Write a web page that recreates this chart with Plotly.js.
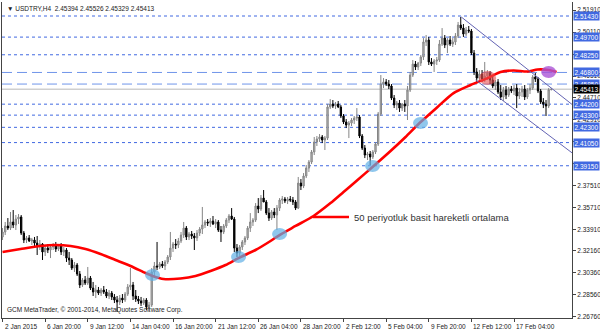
<!DOCTYPE html>
<html><head><meta charset="utf-8">
<script src="https://cdn.plot.ly/plotly-3.0.1.min.js"></script>
<style>html,body{margin:0;padding:0;background:#fff}#c{width:600px;height:333px}</style>
</head><body><div id="c"></div>
<script>
const openP = [2.3331,2.3372,2.3421,2.3404,2.3454,2.3429,2.3478,2.3495,2.3363,2.3306,2.3323,2.3298,2.3306,2.3281,2.3257,2.3273,2.3208,2.3240,2.3224,2.3249,2.3265,2.3232,2.3257,2.3208,2.3224,2.3158,2.3142,2.3076,2.3101,2.3027,2.2937,2.2978,2.2953,2.2994,2.2912,2.2880,2.2896,2.2871,2.2896,2.2880,2.2847,2.2871,2.2839,2.2814,2.2798,2.2830,2.2814,2.2863,2.2921,2.2937,2.2847,2.2822,2.2806,2.2789,2.2814,2.2757,2.2773,2.3044,2.3093,2.3085,2.3109,2.3093,2.3126,2.3167,2.3240,2.3273,2.3265,2.3298,2.3347,2.3404,2.3331,2.3355,2.3339,2.3323,2.3363,2.3396,2.3429,2.3454,2.3445,2.3462,2.3437,2.3454,2.3388,2.3372,2.3421,2.3470,2.3503,2.3478,2.3240,2.3199,2.3249,2.3290,2.3323,2.3404,2.3454,2.3470,2.3585,2.3560,2.3650,2.3618,2.3527,2.3486,2.3536,2.3511,2.3568,2.3634,2.3642,2.3626,2.3642,2.3634,2.3618,2.3568,2.3773,2.3749,2.3831,2.3896,2.3946,2.4028,2.4110,2.4134,2.4151,2.4126,2.4142,2.4397,2.4421,2.4405,2.4421,2.4397,2.4323,2.4274,2.4249,2.4265,2.4290,2.4306,2.4315,2.4159,2.4060,2.4003,2.4011,2.3987,2.4028,2.4093,2.4339,2.4585,2.4602,2.4585,2.4569,2.4470,2.4413,2.4429,2.4388,2.4421,2.4405,2.4536,2.4659,2.4749,2.4725,2.4757,2.4807,2.4930,2.4946,2.4766,2.4749,2.4774,2.4782,2.4913,2.4962,2.4905,2.4946,2.4913,2.4930,2.4979,2.5069,2.5044,2.4995,2.5028,2.5020,2.4839,2.4684,2.4634,2.4667,2.4626,2.4651,2.4675,2.4618,2.4569,2.4602,2.4520,2.4479,2.4536,2.4495,2.4544,2.4528,2.4552,2.4487,2.4520,2.4544,2.4479,2.4536,2.4552,2.4643,2.4626,2.4528,2.4438,2.4421,2.4405,2.4539];
const highP = [2.3404,2.3454,2.3486,2.3536,2.3552,2.3511,2.3519,2.3511,2.3380,2.3339,2.3347,2.3323,2.3331,2.3339,2.3306,2.3281,2.3265,2.3273,2.3257,2.3281,2.3290,2.3273,2.3281,2.3249,2.3240,2.3208,2.3158,2.3126,2.3117,2.3052,2.2994,2.3011,2.3085,2.3011,2.2962,2.2937,2.2921,2.2912,2.2929,2.2904,2.2896,2.2888,2.2863,2.2847,2.2855,2.2863,2.2880,2.2945,2.3076,2.2962,2.2896,2.2847,2.2839,2.2830,2.2830,2.2798,2.3076,2.3126,2.3290,2.3126,2.3134,2.3142,2.3183,2.3372,2.3290,2.3314,2.3323,2.3372,2.3454,2.3421,2.3372,2.3380,2.3363,2.3388,2.3413,2.3577,2.3470,2.3478,2.3486,2.3503,2.3478,2.3470,2.3421,2.3437,2.3486,2.3519,2.3568,2.3495,2.3273,2.3265,2.3306,2.3339,2.3421,2.3527,2.3486,2.3609,2.3650,2.3675,2.3716,2.3634,2.3568,2.3552,2.3568,2.3593,2.3650,2.3667,2.3659,2.3659,2.3667,2.3659,2.3634,2.3823,2.3806,2.3855,2.3921,2.3962,2.4044,2.4151,2.4159,2.4175,2.4167,2.4159,2.4421,2.4462,2.4454,2.4438,2.4446,2.4413,2.4339,2.4298,2.4282,2.4306,2.4323,2.4388,2.4331,2.4175,2.4085,2.4028,2.4036,2.4044,2.4110,2.4356,2.4659,2.4634,2.4626,2.4618,2.4585,2.4495,2.4446,2.4454,2.4429,2.4454,2.4569,2.4684,2.4782,2.4774,2.4766,2.4823,2.4962,2.4987,2.4971,2.4798,2.4790,2.4807,2.4946,2.5044,2.4987,2.4962,2.4979,2.4962,2.5003,2.5094,2.5135,2.5077,2.5053,2.5061,2.5036,2.4864,2.4716,2.4700,2.4700,2.4766,2.4700,2.4692,2.4651,2.4618,2.4626,2.4577,2.4561,2.4569,2.4561,2.4569,2.4577,2.4585,2.4552,2.4569,2.4577,2.4552,2.4585,2.4659,2.4675,2.4643,2.4544,2.4470,2.4454,2.4552,2.4553];
const lowP = [2.3306,2.3347,2.3388,2.3388,2.3404,2.3388,2.3437,2.3347,2.3281,2.3281,2.3290,2.3265,2.3257,2.3183,2.3224,2.3142,2.3175,2.3199,2.3158,2.3224,2.3208,2.3216,2.3183,2.3175,2.3126,2.3101,2.3060,2.3044,2.3011,2.2912,2.2921,2.2937,2.2937,2.2896,2.2847,2.2830,2.2855,2.2847,2.2863,2.2830,2.2822,2.2814,2.2789,2.2716,2.2773,2.2789,2.2798,2.2847,2.2896,2.2814,2.2798,2.2781,2.2765,2.2773,2.2732,2.2716,2.2757,2.3003,2.3060,2.3068,2.3076,2.3060,2.3109,2.3142,2.3208,2.3232,2.3240,2.3281,2.3323,2.3306,2.3306,2.3314,2.3224,2.3298,2.3339,2.3355,2.3404,2.3421,2.3413,2.3429,2.3404,2.3372,2.3290,2.3355,2.3404,2.3445,2.3470,2.3208,2.3167,2.3175,2.3224,2.3265,2.3306,2.3372,2.3421,2.3454,2.3527,2.3544,2.3626,2.3511,2.3462,2.3470,2.3486,2.3388,2.3544,2.3601,2.3609,2.3601,2.3618,2.3593,2.3552,2.3560,2.3716,2.3732,2.3814,2.3864,2.3929,2.4003,2.4077,2.4110,2.4101,2.4044,2.4126,2.4380,2.4388,2.4380,2.4388,2.4306,2.4257,2.4224,2.4142,2.4241,2.4257,2.4282,2.4142,2.4044,2.3978,2.3962,2.3921,2.3970,2.4011,2.4077,2.4323,2.4552,2.4569,2.4544,2.4454,2.4388,2.4372,2.4356,2.4364,2.4356,2.4290,2.4520,2.4643,2.4700,2.4700,2.4733,2.4782,2.4897,2.4741,2.4733,2.4684,2.4741,2.4766,2.4897,2.4880,2.4839,2.4897,2.4889,2.4905,2.4962,2.5028,2.4971,2.4979,2.5003,2.4823,2.4659,2.4602,2.4618,2.4602,2.4602,2.4618,2.4585,2.4552,2.4536,2.4503,2.4454,2.4446,2.4462,2.4479,2.4511,2.4495,2.4388,2.4462,2.4479,2.4454,2.4462,2.4503,2.4536,2.4602,2.4511,2.4421,2.4388,2.4323,2.4388,2.4533];
const closeP = [2.3372,2.3421,2.3404,2.3454,2.3429,2.3478,2.3495,2.3363,2.3306,2.3323,2.3298,2.3306,2.3281,2.3257,2.3273,2.3208,2.3240,2.3224,2.3249,2.3265,2.3232,2.3257,2.3208,2.3224,2.3158,2.3142,2.3076,2.3101,2.3027,2.2937,2.2978,2.2953,2.2994,2.2912,2.2880,2.2896,2.2871,2.2896,2.2880,2.2847,2.2871,2.2839,2.2814,2.2798,2.2830,2.2814,2.2863,2.2921,2.2937,2.2847,2.2822,2.2806,2.2789,2.2814,2.2757,2.2773,2.3044,2.3093,2.3085,2.3109,2.3093,2.3126,2.3167,2.3240,2.3273,2.3265,2.3298,2.3347,2.3404,2.3331,2.3355,2.3339,2.3323,2.3363,2.3396,2.3429,2.3454,2.3445,2.3462,2.3437,2.3454,2.3388,2.3372,2.3421,2.3470,2.3503,2.3478,2.3240,2.3199,2.3249,2.3290,2.3323,2.3404,2.3454,2.3470,2.3585,2.3560,2.3650,2.3618,2.3527,2.3486,2.3536,2.3511,2.3568,2.3634,2.3642,2.3626,2.3642,2.3634,2.3618,2.3568,2.3773,2.3749,2.3831,2.3896,2.3946,2.4028,2.4110,2.4134,2.4151,2.4126,2.4142,2.4397,2.4421,2.4405,2.4421,2.4397,2.4323,2.4274,2.4249,2.4265,2.4290,2.4306,2.4315,2.4159,2.4060,2.4003,2.4011,2.3987,2.4028,2.4093,2.4339,2.4585,2.4602,2.4585,2.4569,2.4470,2.4413,2.4429,2.4388,2.4421,2.4405,2.4536,2.4659,2.4749,2.4725,2.4757,2.4807,2.4930,2.4946,2.4766,2.4749,2.4774,2.4782,2.4913,2.4962,2.4905,2.4946,2.4913,2.4930,2.4979,2.5069,2.5044,2.4995,2.5028,2.5020,2.4839,2.4684,2.4634,2.4667,2.4626,2.4651,2.4675,2.4618,2.4569,2.4602,2.4520,2.4479,2.4536,2.4495,2.4544,2.4528,2.4552,2.4487,2.4520,2.4544,2.4479,2.4536,2.4552,2.4643,2.4626,2.4528,2.4438,2.4421,2.4405,2.4539,2.4541];

const maIdx = [0,6.76,14.26,19.89,25.53,31.16,36.79,42.42,48.05,53.68,56.31,60.44,66.82,72.45,78.08,83.71,88.59,94.97,100.6,103.98,110.0,116.74,123.12,128.0,133.26,138.89,145.65,151.28,156.53,163.29,169.29,175.68,182.06,186.94,191.82,197.07,200.83,204.95,207.96];
const maVal = [2.3208,2.3232,2.3257,2.3265,2.3257,2.3232,2.3191,2.3142,2.3093,2.3035,2.3011,2.2986,2.2990,2.3011,2.3052,2.3101,2.3158,2.3224,2.3298,2.3347,2.3421,2.3503,2.3609,2.3700,2.3798,2.3905,2.4036,2.4151,2.4265,2.4397,2.4511,2.4577,2.4634,2.4684,2.4696,2.4688,2.4704,2.4700,2.4684];

const xTickIdx = [0,16,32,48,64,80,96,112,128,144,160,176,192];
const xTickLabels = ["2 Jan 2015","6 Jan 20:00","9 Jan 12:00","14 Jan 04:00","16 Jan 20:00","21 Jan 12:00","26 Jan 04:00","28 Jan 20:00","2 Feb 12:00","5 Feb 04:00","9 Feb 20:00","12 Feb 12:00","17 Feb 04:00"];
const yTickVals = [2.26760,2.28560,2.30360,2.32160,2.33910,2.35710,2.37510,2.39310,2.41110,2.42910,2.44710,2.46510,2.48310,2.50110,2.51910];
// scale labels fully hidden behind level boxes in the reference
const yTickHidden = [2.39310,2.41110,2.48310];

const dottedLevels = [2.51430,2.49700,2.48250,2.44200,2.43300,2.42300,2.41050,2.39150];
const dashedLevels = [2.46800,2.45850];
const bidPrice = 2.45413;

const channelUpper = {i:[172.2,213.76], p:[2.5135,2.4418]};
const channelLower = {i:[177.6,213.76], p:[2.4618,2.4021]};

const blueMarks = {i:[56.3,88.6,104.0,138.9,156.9], p:[2.3019,2.3167,2.3355,2.3913,2.4265]};
const redMark = {i:182.1, p:2.4634};
const purpleMark = {i:205.0, p:2.4684};

const headerText = "\u25BC USDTRY,H4  2.45394 2.45526 2.45329 2.45413";
const copyrightText = "GCM MetaTrader, \u00A9 2001-2014, MetaQuotes Software Corp.";
const legendText = "50 periyotluk basit hareketli ortalama";

const xIdx = openP.map((_, k) => k);

const traces = [
  {type:'candlestick', x:xIdx, open:openP, high:highP, low:lowP, close:closeP,
   increasing:{line:{color:'#858585', width:1}, fillcolor:'#bcbcbc'},
   decreasing:{line:{color:'#000000', width:1}, fillcolor:'#000000'},
   whiskerwidth:0, hoverinfo:'skip'},
  {type:'scatter', mode:'lines', x:maIdx, y:maVal, line:{color:'#ff0000', width:2.6, shape:'spline', smoothing:0.7}, hoverinfo:'skip'}
];

const shapes = [];
dottedLevels.forEach(v => shapes.push({type:'line', xref:'paper', x0:0, x1:1, yref:'y', y0:v, y1:v, layer:'below', line:{color:'#4169E1', width:1, dash:'dot'}}));
dashedLevels.forEach(v => shapes.push({type:'line', xref:'paper', x0:0, x1:1, yref:'y', y0:v, y1:v, layer:'below', line:{color:'#6f95ea', width:1, dash:'10px,5px'}}));
shapes.push({type:'line', xref:'paper', x0:0, x1:1, yref:'y', y0:bidPrice, y1:bidPrice, layer:'below', line:{color:'#cfcfcf', width:1.5}});
[channelUpper, channelLower].forEach(c => shapes.push({type:'line', xref:'x', yref:'y', x0:c.i[0], x1:c.i[1], y0:c.p[0], y1:c.p[1], line:{color:'#6464b4', width:1}}));
function ell(i, p, w, h, col){
  return {type:'circle', xref:'x', yref:'y', xsizemode:'pixel', ysizemode:'pixel', xanchor:i, yanchor:p,
    x0:-w/2, x1:w/2, y0:-h/2, y1:h/2, fillcolor:col, line:{width:0}};
}
blueMarks.i.forEach((i,k) => shapes.push(ell(i, blueMarks.p[k], 15, 12, 'rgba(95,175,230,0.7)')));
shapes.push(ell(redMark.i, redMark.p, 17, 14, 'rgba(235,80,80,0.6)'));
shapes.push(ell(purpleMark.i, purpleMark.p, 15, 12, 'rgba(170,85,215,0.8)'));
shapes.push({type:'line', xref:'paper', yref:'paper', x0:(313-2)/570, x1:(349-2)/570, y0:1-(217-2)/316, y1:1-(217-2)/316, line:{color:'#ff0000', width:2.6}});

const annotations = [];
xTickIdx.forEach((i,k) => annotations.push({xref:'x', x:i, xanchor:'left', xshift:0, yref:'paper', y:0, yanchor:'top', yshift:-3,
  text:xTickLabels[k], showarrow:false, font:{size:6.5, color:'#222'}}));
dottedLevels.concat(dashedLevels).forEach(v => annotations.push({xref:'paper', x:1, xanchor:'left', xshift:1, yref:'y', y:v, yanchor:'middle',
  text:v.toFixed(5), showarrow:false, bgcolor:'#4169E1', borderpad:0.5, font:{color:'#ffffff', size:6.5}}));
annotations.push({xref:'paper', x:1, xanchor:'left', xshift:1, yref:'y', y:bidPrice, yanchor:'middle',
  text:bidPrice.toFixed(5), showarrow:false, bgcolor:'#000000', borderpad:0.5, font:{color:'#ffffff', size:6.5}});
annotations.push({xref:'paper', x:0, xanchor:'left', xshift:3, yref:'paper', y:1, yanchor:'top', yshift:-1,
  text:headerText, showarrow:false, font:{size:6.5, color:'#222'}});
annotations.push({xref:'paper', x:0, xanchor:'left', xshift:3, yref:'paper', y:0, yanchor:'bottom', yshift:2,
  text:copyrightText, showarrow:false, font:{size:6.5, color:'#222'}});
annotations.push({xref:'paper', x:(352-2)/570, xanchor:'left', yref:'paper', y:1-(217-2)/316, yanchor:'middle',
  text:legendText, showarrow:false, font:{size:9.5, color:'#333'}});

const layout = {
  width:600, height:333, margin:{l:2, r:28, t:2, b:15},
  paper_bgcolor:'#ffffff', plot_bgcolor:'#ffffff', showlegend:false,
  font:{family:'Liberation Sans, Arial, sans-serif', size:6.5, color:'#222'},
  xaxis:{range:[-0.2,213.76], showgrid:false, zeroline:false, showline:true, linecolor:'#444', linewidth:1,
    ticks:'outside', ticklen:3, tickcolor:'#444', tickvals:xTickIdx, showticklabels:false,
    rangeslider:{visible:false}, fixedrange:true},
  yaxis:{side:'right', range:[2.26665,2.52578], showgrid:false, zeroline:false, showline:true, mirror:true,
    linecolor:'#444', linewidth:1, ticks:'outside', ticklen:3, tickcolor:'#444',
    tickvals:yTickVals, ticktext:yTickVals.map(v => yTickHidden.includes(v) ? '' : v.toFixed(5)),
    tickfont:{size:6.5, color:'#222'}, fixedrange:true},
  shapes:shapes, annotations:annotations
};

Plotly.newPlot('c', traces, layout, {displayModeBar:false, staticPlot:true});
</script>
</body></html>
